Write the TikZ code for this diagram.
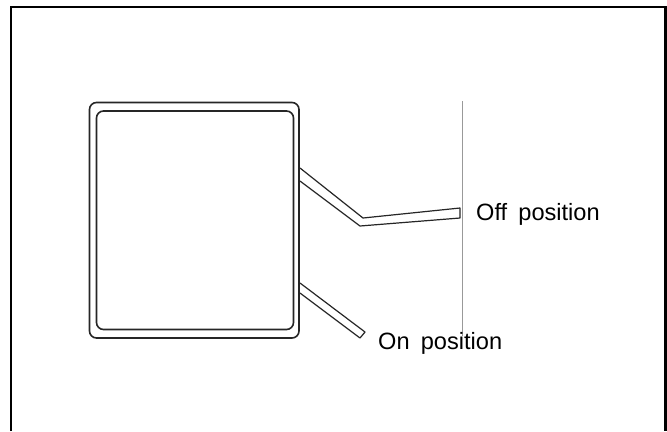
\documentclass[tikz,border=0pt]{standalone}
\usepackage{fontspec}
\setmainfont[WordSpace=1.7]{Liberation Sans}
\tikzset{
  frameline/.style={draw=black,line width=2.2bp},
  bodyline/.style={draw=black!85,line width=1.6bp},
  leverline/.style={draw=black!85,line width=1.2bp,line join=round},
  guideline/.style={draw=black!40,line width=0.9bp},
  lab/.style={anchor=base west,inner sep=0pt,font=\fontsize{23.6bp}{27bp}\selectfont}
}
\begin{document}
\begin{tikzpicture}[x=1bp,y=-1bp]
\useasboundingbox (0,0) rectangle (667,431);
\fill[white] (0,0) rectangle (667,431);
\draw[frameline] (11,431) -- (11,7) -- (665.5,7) -- (665.5,431);
\draw[bodyline,rounded corners=7bp] (89.5,102.5) rectangle (299,338);
\draw[bodyline,rounded corners=7bp] (96.5,111) rectangle (293.5,329.5);
\draw[guideline] (462,101) -- (462,336);
\draw[leverline] (300,168) -- (363,218) -- (460,208) -- (460,218) -- (360,226) -- (300,181);
\draw[leverline] (300,283) -- (365,332) -- (360,338) -- (300,293);
\node[lab] (off) at (476,220) {Off position};
\node[lab] (on) at (378,349) {On position};
\end{tikzpicture}
\end{document}
